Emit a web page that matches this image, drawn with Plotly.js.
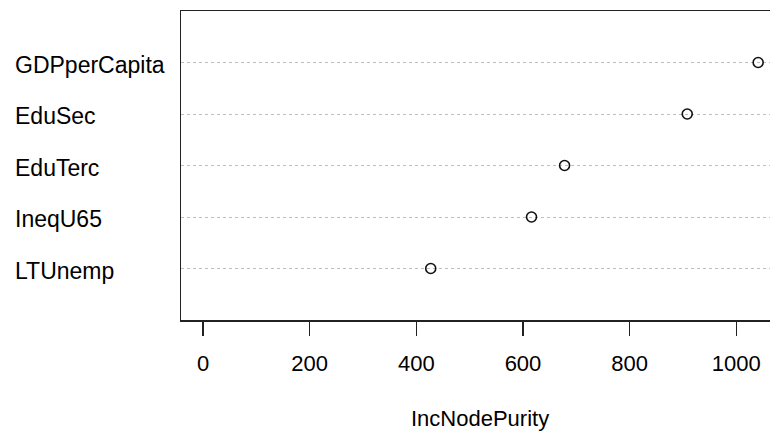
<!DOCTYPE html>
<html>
<head>
<meta charset="utf-8">
<script src="https://cdn.plot.ly/plotly-3.0.1.min.js"></script>
<style>
html,body{margin:0;padding:0;background:#fff;overflow:hidden;}
#chart{width:770px;height:432px;}
</style>
</head>
<body>
<div id="chart"></div>
<script>
// Variable importance (IncNodePurity), listed top to bottom
var variables = ["GDPperCapita", "EduSec", "EduTerc", "IneqU65", "LTUnemp"];
var incNodePurity = [1041, 908, 678, 616, 427];
var xTickVals = [0, 200, 400, 600, 800, 1000];
var xTitle = "IncNodePurity";

// bottom-to-top order for the category axis
var cats = variables.slice().reverse();
var vals = incNodePurity.slice().reverse();

var FONT = "Liberation Sans, Arial, sans-serif";

var trace = {
  type: "scatter",
  mode: "markers",
  x: vals,
  y: cats,
  marker: {
    symbol: "circle-open",
    size: 10,
    color: "#111",
    line: {width: 1.6, color: "#111"}
  },
  hoverinfo: "skip",
  showlegend: false
};

var annotations = cats.map(function (c, i) {
  return {
    xref: "paper", yref: "y",
    x: -0.2852, y: i,
    xanchor: "left", yanchor: "middle",
    yshift: -2,
    text: c, showarrow: false,
    font: {family: FONT, size: 23, color: "#000"}
  };
});
annotations.push({
  xref: "paper", yref: "paper",
  x: 0.5076, y: -0.318,
  xanchor: "center", yanchor: "middle",
  text: xTitle, showarrow: false,
  font: {family: FONT, size: 22, color: "#000"}
});

var layout = {
  width: 770, height: 432,
  margin: {l: 181, r: 0, t: 11, b: 112, pad: 0},
  paper_bgcolor: "#fff",
  plot_bgcolor: "#fff",
  showlegend: false,
  xaxis: {
    range: [-41.3, 1063.2],
    tickvals: xTickVals,
    ticktext: xTickVals.map(String),
    ticks: "outside",
    ticklen: 14,
    tickwidth: 1.5,
    tickcolor: "#222",
    ticklabelstandoff: 9,
    tickfont: {family: FONT, size: 22, color: "#000"},
    showgrid: false,
    zeroline: false,
    showline: true,
    linecolor: "#222",
    linewidth: 1.5,
    mirror: true,
    fixedrange: true
  },
  yaxis: {
    type: "category",
    categoryorder: "array",
    categoryarray: cats,
    range: [-1, 5],
    showticklabels: false,
    ticks: "",
    showgrid: true,
    gridcolor: "#bebebe",
    gridwidth: 1,
    griddash: "dot",
    zeroline: false,
    showline: true,
    linecolor: "#222",
    linewidth: 1.5,
    fixedrange: true
  },
  annotations: annotations
};

Plotly.newPlot("chart", [trace], layout, {displayModeBar: false, staticPlot: true});
</script>
</body>
</html>
